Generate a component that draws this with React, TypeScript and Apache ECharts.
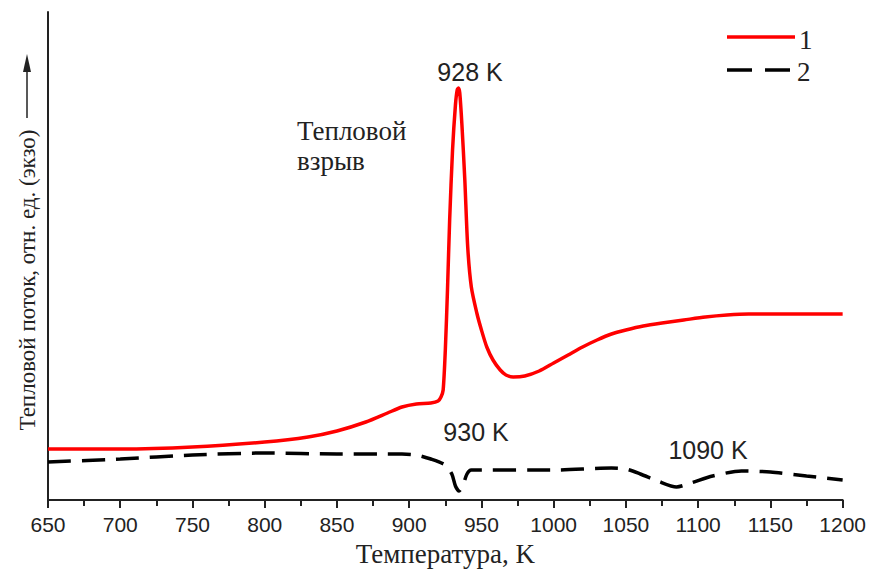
import React, { useEffect, useRef } from "react";
import * as echarts from "echarts";

// Temperature (K) and relative heat flux (arb. units, exo up)
const temps1 = [650, 700, 750, 800, 830, 850, 870, 885, 895, 905, 915, 920, 922, 923.5, 925, 926.5, 928, 930, 932, 933.2, 934.1, 935, 936.5, 938.5, 940.5, 943, 946.8, 950, 953.7, 958, 963, 967, 972, 980, 990, 1000, 1010, 1020, 1030, 1040, 1050, 1062, 1075, 1090, 1105, 1120, 1135, 1160, 1200];
const flux1 = [51, 51, 53, 58, 63, 69, 78, 87, 93, 96, 97, 99, 103, 110, 150, 210, 280, 350, 395, 410, 412, 407, 375, 320, 253, 213, 187, 170, 153, 140, 130, 125, 123, 124, 129, 137, 145, 153, 160, 166, 170, 174, 177, 180, 183, 185, 186, 186, 186];

const temps2 = [650, 700, 750, 800, 850, 895, 905, 915, 925, 929.5, 932, 934.5, 937, 940, 943, 1000, 1040, 1050, 1060, 1072, 1085, 1095, 1110, 1130, 1150, 1175, 1200];
const flux2 = [38, 41, 45, 47, 46, 46, 45, 41, 35, 26, 14, 9, 14, 26, 30, 30, 32, 31, 26, 19, 13, 17, 24, 29, 28, 24, 20];

const xTicks = { min: 650, max: 1200, interval: 50 };
const seriesNames = ["1", "2"];

const SERIF = "'Liberation Serif', 'DejaVu Serif', serif";
const SANS = "'Liberation Sans', Arial, sans-serif";

const serifText = (text: string, x: number, y: number, size: number, align = "left", rotation = 0) => ({
  type: "text",
  x,
  y,
  rotation,
  style: {
    text,
    font: `${size}px ${SERIF}`,
    fontFamily: SERIF,
    fontSize: size,
    fill: "#222",
    textAlign: align,
    textVerticalAlign: "middle",
  },
});

const sansText = (text: string, x: number, y: number, size: number) => ({
  type: "text",
  x,
  y,
  style: {
    text,
    font: `${size}px ${SANS}`,
    fontFamily: SANS,
    fontSize: size,
    fill: "#222",
    textAlign: "center",
    textVerticalAlign: "middle",
  },
});

export default function App() {
  const ref = useRef<HTMLDivElement>(null);
  useEffect(() => {
    if (!ref.current) return;
    const chart = echarts.init(ref.current, undefined, { renderer: "svg" });
    const d1 = temps1.map((t, i) => [t, flux1[i]]);
    const d2 = temps2.map((t, i) => [t, flux2[i]]);
    chart.setOption({
      animation: false,
      backgroundColor: "#ffffff",
      grid: { left: 48, right: 26, top: 12, bottom: 72 },
      xAxis: {
        type: "value",
        min: xTicks.min,
        max: xTicks.max,
        interval: xTicks.interval,
        name: "Температура, K",
        nameLocation: "middle",
        nameGap: 40,
        nameTextStyle: { fontFamily: SERIF, fontSize: 27, color: "#222" },
        axisLine: { show: true, onZero: false, lineStyle: { color: "#222", width: 2 } },
        axisTick: { show: true, inside: false, length: 8, lineStyle: { color: "#222", width: 2 } },
        minorTick: { show: true, splitNumber: 2, length: 6, lineStyle: { color: "#222", width: 2 } },
        axisLabel: {
          fontFamily: SANS,
          fontSize: 21,
          color: "#222",
          margin: 14,
          formatter: (v: number) => String(v),
        },
        splitLine: { show: false },
      },
      yAxis: {
        type: "value",
        min: 0,
        max: 488,
        axisLine: { show: true, lineStyle: { color: "#222", width: 2 } },
        axisTick: { show: false },
        axisLabel: { show: false },
        splitLine: { show: false },
      },
      series: [
        {
          name: seriesNames[0],
          type: "line",
          data: d1,
          showSymbol: false,
          symbol: "none",
          smooth: 0.25,
          lineStyle: { color: "#ff0000", width: 3.5 },
          itemStyle: { color: "#ff0000" },
          z: 3,
        },
        {
          name: seriesNames[1],
          type: "line",
          data: d2,
          showSymbol: false,
          symbol: "none",
          smooth: 0.25,
          lineStyle: { color: "#000000", width: 3.5, type: [23, 11] },
          itemStyle: { color: "#000000" },
          z: 2,
        },
      ],
      graphic: [
        // legend
        {
          type: "line",
          shape: { x1: 727, y1: 37, x2: 795, y2: 37 },
          style: { stroke: "#ff0000", lineWidth: 3.5 },
        },
        serifText(seriesNames[0], 799, 40, 27),
        {
          type: "line",
          shape: { x1: 727, y1: 70, x2: 790, y2: 70 },
          style: { stroke: "#000000", lineWidth: 3.5, lineDash: [25, 13] },
        },
        serifText(seriesNames[1], 797, 72, 27),
        // y-axis title with arrow
        serifText("Тепловой поток, отн. ед. (экзо)", 27, 280, 23, "center", Math.PI / 2),
        {
          type: "line",
          shape: { x1: 27, y1: 118, x2: 27, y2: 70 },
          style: { stroke: "#222", lineWidth: 1.5 },
        },
        {
          type: "polygon",
          shape: { points: [[27, 54], [23, 72], [31, 72]] },
          style: { fill: "#222" },
        },
        // annotations
        sansText("928 K", 470, 72, 25),
        sansText("930 K", 476, 432, 25),
        sansText("1090 K", 708, 450, 25),
        serifText("Тепловой", 297, 131, 27),
        serifText("взрыв", 297, 161, 27),
      ],
    });
    return () => chart.dispose();
  }, []);
  return <div ref={ref} style={{ width: 869, height: 572, position: "absolute", left: 0, top: 0 }} />;
}
